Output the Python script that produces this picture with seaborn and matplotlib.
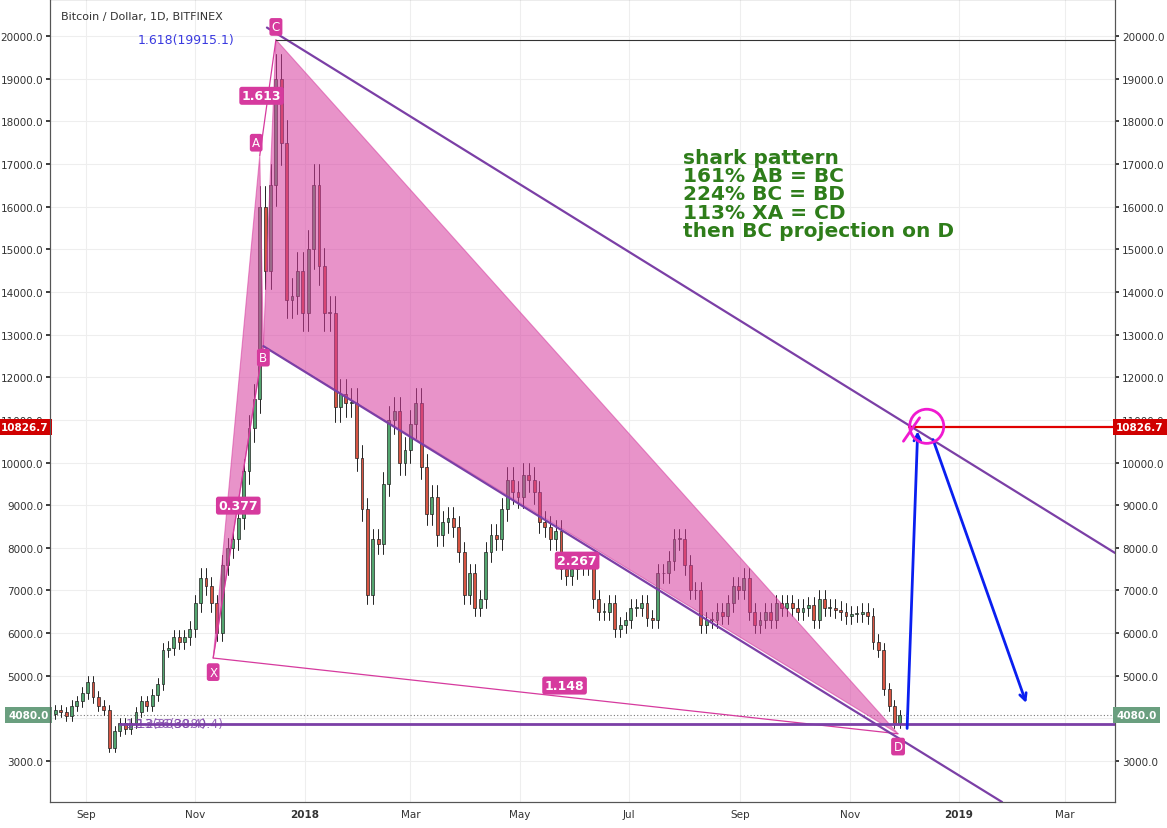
import matplotlib
matplotlib.use("Agg")
import matplotlib.pyplot as plt
import matplotlib.dates as mdates
from matplotlib.patches import Polygon, Ellipse
import seaborn as sns
import pandas as pd
import numpy as np

sns.set_theme(style="white")
plt.rcParams['font.family'] = ['DejaVu Sans']

start = "2017-08-12"
closes = [4100,4200,4150,4050,4300,4400,4600,4850,4500,4300,4200,3300,3700,3900,3750,3900,4150,4400,4300,4550,
          4800,5600,5650,5900,5800,5900,6100,6700,7300,7100,6700,6000,7600,8000,8200,8700,9800,10800,11500,16000,
          14500,16500,19000,17500,13800,13900,14500,13500,15000,16500,14600,13500,13500,11300,11600,11400,11400,10100,8900,6900,
          8200,8100,9500,11000,11200,10000,10300,10900,11400,9900,8800,9200,8300,8600,8700,8500,7900,6900,7400,6600,
          6800,7900,8300,8200,8900,9600,9300,9200,9700,9600,9300,8600,8500,8200,8400,7500,7350,7500,7600,7600,
          7650,6800,6500,6500,6700,6100,6200,6300,6600,6600,6700,6350,6300,7400,7400,7700,8200,8200,7600,7000,
          7000,6200,6300,6300,6500,6400,6700,7100,7000,7300,6500,6200,6300,6500,6300,6700,6600,6700,6600,6500,
          6600,6650,6300,6800,6600,6600,6550,6500,6400,6450,6450,6500,6400,5800,5600,4700,4300,3900,4080]
dates = pd.date_range(start, periods=len(closes), freq="3D")
opens = [closes[0]] + closes[:-1]
wick = 0.03

pts = {"X": ("2017-11-11", 5416), "A": ("2017-12-07", 17200), "B": ("2017-12-09", 12730),
       "C": ("2017-12-16", 19915.1), "D": ("2018-11-28", 3640)}
P = {k: (mdates.date2num(pd.Timestamp(d)), v) for k, (d, v) in pts.items()}
def tnum(date): return mdates.date2num(pd.Timestamp(date))

fig = plt.figure(figsize=(11.67, 8.29), dpi=100)
ax = fig.add_axes([50/1167, 26/829, 1065/1167, 803/829])
ax.set_facecolor("white")
xmin = tnum("2017-08-12"); xmax = tnum("2019-03-29")
ax.set_xlim(xmin, xmax); ax.set_ylim(2040, 20870)

for d, o, c in zip(dates, opens, closes):
    x = mdates.date2num(d)
    hi = max(o, c) * (1 + wick); lo = min(o, c) * (1 - wick)
    col = "#53a56f" if c >= o else "#d75442"
    ax.plot([x, x], [lo, hi], color="#222222", lw=0.7, zorder=3)
    ax.add_patch(plt.Rectangle((x - 0.8, min(o, c)), 1.6, max(abs(c - o), 20), facecolor=col,
                               edgecolor="#222222", lw=0.5, zorder=4))

pink = "#d63a9e"
ax.add_patch(Polygon([P["X"], P["A"], P["B"]], closed=True, facecolor=pink, alpha=0.55, edgecolor=pink, lw=0.8, zorder=5))
ax.add_patch(Polygon([P["B"], P["C"], P["D"]], closed=True, facecolor=pink, alpha=0.55, edgecolor=pink, lw=0.8, zorder=5))
ax.plot([P["X"][0], P["D"][0]], [P["X"][1], P["D"][1]], color=pink, lw=0.9, zorder=5)
ax.plot([P["A"][0], P["C"][0]], [P["A"][1], P["C"][1]], color=pink, lw=0.9, zorder=5)
ax.plot([P["X"][0], P["B"][0]], [P["X"][1], P["B"][1]], color=pink, lw=0.9, zorder=5)

purple = "#7b3fa6"
ax.plot([tnum("2017-12-11"), xmax], [20200, 7880], color=purple, lw=1.6, zorder=6)
ax.plot([P["B"][0], tnum("2019-01-25")], [P["B"][1], 2040], color=purple, lw=1.6, zorder=6)
ax.plot([tnum("2017-09-20"), xmax], [3880.4, 3880.4], color=purple, lw=2, zorder=6)
ax.plot([P["C"][0], xmax], [19915.1, 19915.1], color="#333333", lw=0.8, zorder=6)
ax.axhline(4080, color="#777777", lw=0.8, ls=(0, (1, 2)), zorder=2)
ax.plot([tnum("2018-12-04"), xmax], [10826.7, 10826.7], color="#e00000", lw=1.6, zorder=6)

for name, (dx, dy) in {"X": (0, -330), "A": (-2, 300), "B": (0, -270), "C": (0, 300), "D": (0, -300)}.items():
    ax.text(P[name][0] + dx, P[name][1] + dy, name, color="white", fontsize=8.5, ha="center", va="center",
            bbox=dict(boxstyle="round,pad=0.2", fc=pink, ec="none"), zorder=9)
for t, d, v in [("1.613", "2017-12-08", 18600), ("0.377", "2017-11-25", 8990), ("2.267", "2018-06-02", 7700),
                ("1.148", "2018-05-26", 4770)]:
    ax.text(tnum(d), v, t, color="white", fontsize=9, fontweight="bold", ha="center", va="center",
            bbox=dict(boxstyle="round,pad=0.2", fc=pink, ec="none"), zorder=9)
ax.text(tnum("2017-10-27"), 19915, "1.618(19915.1)", color="#3b3be0", fontsize=9, ha="center", va="center", zorder=9)
ax.text(tnum("2017-10-16"), 3880, "1.13(3880.4)", color="#7b3fa6", fontsize=9, ha="center", va="center", zorder=9, alpha=0.8)
ax.text(tnum("2017-10-23"), 3880, "2.236(3880.4)", color="#7b3fa6", fontsize=9, ha="center", va="center", zorder=9, alpha=0.8)

ax.text(tnum("2018-07-31"), 16300, "shark pattern\n161% AB = BC\n224% BC = BD\n113% XA = CD\nthen BC projection on D",
        color="#2e7d1a", fontsize=14.5, fontweight="bold", va="center", ha="left", linespacing=0.95, zorder=9)

blue = "#0a1ff0"
ax.annotate("", xy=(tnum("2018-12-09"), 10800), xytext=(tnum("2018-12-03"), 3700),
            arrowprops=dict(arrowstyle="->", color=blue, lw=2), zorder=9)
ax.annotate("", xy=(tnum("2019-02-08"), 4300), xytext=(tnum("2018-12-17"), 10600),
            arrowprops=dict(arrowstyle="->", color=blue, lw=2), zorder=9)
ax.add_patch(Ellipse((tnum("2018-12-14"), 10850), 19, 800, fill=False, ec="#f01ad0", lw=2, zorder=9))
ax.plot([tnum("2018-12-01"), tnum("2018-12-10")], [10500, 11050], color="#f01ad0", lw=2, zorder=9)

ticks = list(range(3000, 20001, 1000))
ax.set_yticks(ticks); ax.set_yticklabels([f"{t:.1f}" for t in ticks], fontsize=7.5, color="#333333")
ax2 = ax.twinx(); ax2.set_ylim(ax.get_ylim())
ax2.set_yticks(ticks); ax2.set_yticklabels([f"{t:.1f}" for t in ticks], fontsize=7.5, color="#333333")
xt = ["2017-09-01", "2017-11-01", "2018-01-01", "2018-03-01", "2018-05-01", "2018-07-01", "2018-09-01",
      "2018-11-01", "2019-01-01", "2019-03-01"]
xl = ["Sep", "Nov", "2018", "Mar", "May", "Jul", "Sep", "Nov", "2019", "Mar"]
ax.set_xticks([tnum(d) for d in xt]); ax.set_xticklabels(xl, fontsize=7.5, color="#333333")
for l in ax.get_xticklabels():
    if l.get_text() in ("2018", "2019"): l.set_fontweight("bold")
ax.grid(True, color="#eeeeee", lw=0.8); ax.set_axisbelow(True)
for a in (ax, ax2):
    for s in a.spines.values(): s.set_color("#555555"); s.set_linewidth(0.8)
ax.tick_params(axis="both", length=3, pad=2); ax2.tick_params(axis="y", length=3, pad=2)
ax.text(0.01, 0.985, "Bitcoin / Dollar, 1D, BITFINEX", transform=ax.transAxes, fontsize=8, color="#333333", va="top")

for a, ha, xx in [(ax, "right", -0.001), (ax2, "left", 1.001)]:
    a.text(xx, 10826.7, "10826.7", transform=a.get_yaxis_transform(), ha=ha, va="center", fontsize=7.5,
           color="white", fontweight="bold", bbox=dict(boxstyle="square,pad=0.3", fc="#d00000", ec="none"), zorder=10, clip_on=False)
    a.text(xx, 4080, "4080.0", transform=a.get_yaxis_transform(), ha=ha, va="center", fontsize=7.5,
           color="white", fontweight="bold", bbox=dict(boxstyle="square,pad=0.3", fc="#6a9f7f", ec="none"), zorder=10, clip_on=False)

fig.savefig("out.png", dpi=100)
